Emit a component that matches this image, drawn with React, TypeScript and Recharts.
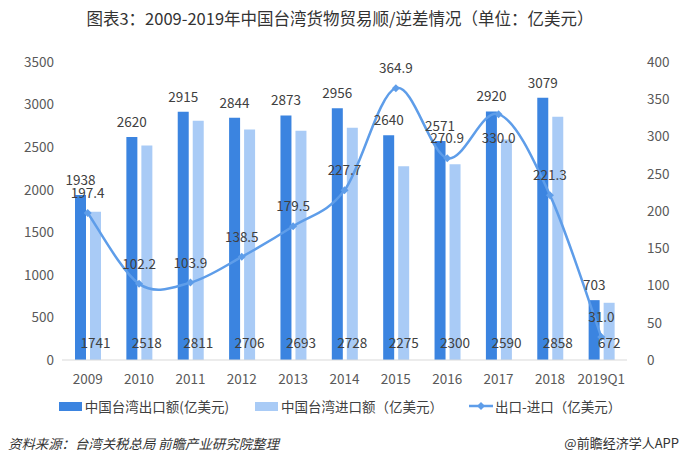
import { ComposedChart, Bar, Line, XAxis, YAxis, LabelList, Legend } from "recharts";

const years = ["2009", "2010", "2011", "2012", "2013", "2014", "2015", "2016", "2017", "2018", "2019Q1"];
const exports = [1938, 2620, 2915, 2844, 2873, 2956, 2640, 2571, 2920, 3079, 703];
const imports = [1741, 2518, 2811, 2706, 2693, 2728, 2275, 2300, 2590, 2858, 672];
const balance = [197.4, 102.2, 103.9, 138.5, 179.5, 227.7, 364.9, 270.9, 330.0, 221.3, 31.0];
const leftTicks = [0, 500, 1000, 1500, 2000, 2500, 3000, 3500];
const rightTicks = [0, 50, 100, 150, 200, 250, 300, 350, 400];

const EXPORT_COLOR = "#3b84e0";
const IMPORT_COLOR = "#a9cbf6";
const LINE_COLOR = "#5e9de9";
const FONT = "'Noto Sans CJK SC', 'Noto Sans', sans-serif";
const LABEL_SIZE = 13.5;

const data = years.map((y, i) => ({
  year: y,
  exp: exports[i],
  imp: imports[i],
  bal: balance[i],
}));

// excel-like smooth line (catmull-rom through the points)
function smoothCurve(context: any) {
  let pts: number[][] = [];
  return {
    areaStart() {},
    areaEnd() {},
    lineStart() {
      pts = [];
    },
    point(x: number, y: number) {
      pts.push([+x, +y]);
    },
    lineEnd() {
      if (!pts.length) return;
      context.moveTo(pts[0][0], pts[0][1]);
      for (let i = 0; i < pts.length - 1; i++) {
        const p0 = pts[i - 1] || pts[i];
        const p1 = pts[i];
        const p2 = pts[i + 1];
        const p3 = pts[i + 2] || p2;
        context.bezierCurveTo(
          p1[0] + (p2[0] - p0[0]) / 6,
          p1[1] + (p2[1] - p0[1]) / 6,
          p2[0] - (p3[0] - p1[0]) / 6,
          p2[1] - (p3[1] - p1[1]) / 6,
          p2[0],
          p2[1]
        );
      }
    },
  };
}

const Diamond = (props: any) => {
  const { cx, cy } = props;
  if (cx == null || cy == null) return null;
  const r = 4;
  return <polygon points={`${cx},${cy - r} ${cx + r},${cy} ${cx},${cy + r} ${cx - r},${cy}`} fill={LINE_COLOR} />;
};

const ImportLabel = (props: any) => {
  const { x, width, value } = props;
  return (
    <text x={x + width / 2} y={348} textAnchor="middle" fontSize={LABEL_SIZE} fill="#404040">
      {value}
    </text>
  );
};

// the 2017 label sits under its point in the original
const BalanceLabel = (props: any) => {
  const { x, y, index, value } = props;
  const below = index === 8;
  return (
    <text x={x} y={below ? y + 29 : y - 15} textAnchor="middle" fontSize={LABEL_SIZE} fill="#404040">
      {Number(value).toFixed(1)}
    </text>
  );
};

const LegendContent = () => {
  const item = { display: "flex", alignItems: "center", marginRight: 26 } as const;
  return (
    <div style={{ display: "flex", justifyContent: "center", fontSize: 13.5, color: "#404040", fontFamily: FONT }}>
      <div style={item}>
        <span style={{ width: 23, height: 9, background: EXPORT_COLOR, marginRight: 3 }} />
        中国台湾出口额(亿美元)
      </div>
      <div style={item}>
        <span style={{ width: 23, height: 9, background: IMPORT_COLOR, marginRight: 3 }} />
        中国台湾进口额（亿美元）
      </div>
      <div style={{ ...item, marginRight: 0 }}>
        <svg width={24} height={10} style={{ marginRight: 2 }}>
          <line x1={0} y1={5} x2={24} y2={5} stroke={LINE_COLOR} strokeWidth={2.5} />
          <polygon points="12,1 16,5 12,9 8,5" fill={LINE_COLOR} />
        </svg>
        出口-进口（亿美元）
      </div>
    </div>
  );
};

export default function App() {
  return (
    <div style={{ position: "absolute", left: 0, top: 0, width: 680, height: 466, background: "#fff", fontFamily: FONT }}>
      <div style={{ position: "absolute", top: 6, width: 680, textAlign: "center", fontSize: 16.5, color: "#333" }}>
        图表3：2009-2019年中国台湾货物贸易顺/逆差情况（单位：亿美元）
      </div>
      <ComposedChart
        width={680}
        height={466}
        data={data}
        margin={{ top: 62, right: 10, bottom: 36, left: 10 }}
        barGap={4}
        barCategoryGap="25%"
      >
        <XAxis
          dataKey="year"
          tickLine={false}
          axisLine={{ stroke: "#d9d9d9" }}
          tick={{ fontSize: LABEL_SIZE, fill: "#595959" }}
          tickMargin={8}
          height={46}
          interval={0}
        />
        <YAxis
          yAxisId="left"
          domain={[0, 3500]}
          ticks={leftTicks}
          axisLine={false}
          tickLine={false}
          tick={{ fontSize: LABEL_SIZE, fill: "#595959" }}
          width={52}
        />
        <YAxis
          yAxisId="right"
          orientation="right"
          domain={[0, 400]}
          ticks={rightTicks}
          axisLine={false}
          tickLine={false}
          tick={{ fontSize: LABEL_SIZE, fill: "#595959", textAnchor: "start" }}
          tickMargin={14}
          width={43}
        />
        <Legend verticalAlign="bottom" height={24} wrapperStyle={{ bottom: 46 }} content={() => <LegendContent />} />
        <Bar yAxisId="left" dataKey="exp" fill={EXPORT_COLOR} barSize={11} isAnimationActive={false}>
          <LabelList dataKey="exp" position="top" offset={10} fontSize={LABEL_SIZE} fill="#404040" />
        </Bar>
        <Bar yAxisId="left" dataKey="imp" fill={IMPORT_COLOR} barSize={11} isAnimationActive={false}>
          <LabelList dataKey="imp" content={<ImportLabel />} />
        </Bar>
        <Line
          yAxisId="right"
          dataKey="bal"
          type={smoothCurve as any}
          stroke={LINE_COLOR}
          strokeWidth={2.5}
          dot={<Diamond />}
          activeDot={false}
          isAnimationActive={false}
        >
          <LabelList dataKey="bal" content={<BalanceLabel />} />
        </Line>
      </ComposedChart>
      <div style={{ position: "absolute", left: 8, top: 433, fontSize: 13.4, color: "#333", fontStyle: "italic" }}>
        资料来源：台湾关税总局 前瞻产业研究院整理
      </div>
      <div style={{ position: "absolute", right: 1, top: 433, fontSize: 13, color: "#333" }}>@前瞻经济学人APP</div>
    </div>
  );
}
